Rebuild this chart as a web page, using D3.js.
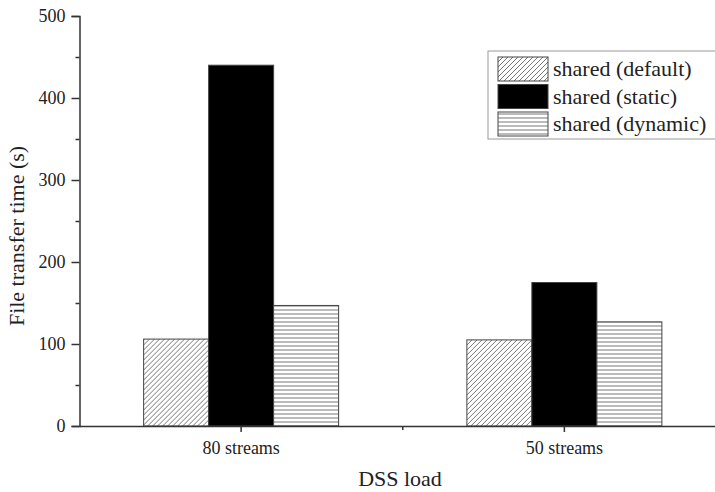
<!DOCTYPE html>
<html>
<head>
<meta charset="utf-8">
<script src="https://cdn.jsdelivr.net/npm/d3@7/dist/d3.min.js"></script>
<style>
  html, body { margin: 0; padding: 0; background: #fff; }
  svg text { font-family: 'Liberation Serif', 'Times New Roman', serif; fill: #222; }
</style>
</head>
<body>
<div id="chart"></div>
<script>
// values
const loads = ['80 streams', '50 streams'];
const configs = ['shared (default)', 'shared (static)', 'shared (dynamic)'];
const defaultTimes = [106, 105];
const staticTimes = [440, 175];
const dynamicTimes = [147, 127];
const yTicks = [0, 100, 200, 300, 400, 500];

const seriesValues = [defaultTimes, staticTimes, dynamicTimes];

const size = { width: 715, height: 492 };
const margin = { left: 79.5, top: 16, right: -11, bottom: 66 };

const svg = d3.select('#chart').append('svg')
  .attr('width', size.width)
  .attr('height', size.height);

svg.append('rect').attr('width', size.width).attr('height', size.height).attr('fill', '#fff');

const defs = svg.append('defs');

// diagonal hatch
const diag = defs.append('pattern')
  .attr('id', 'hatch-diag')
  .attr('patternUnits', 'userSpaceOnUse')
  .attr('width', 5)
  .attr('height', 5);
diag.append('rect').attr('width', 5).attr('height', 5).attr('fill', '#fff');
diag.append('path')
  .attr('d', 'M0,5 L5,0 M-1,1 L1,-1 M4,6 L6,4')
  .attr('stroke', '#666')
  .attr('stroke-width', 0.9);

// horizontal hatch
const horiz = defs.append('pattern')
  .attr('id', 'hatch-horiz')
  .attr('patternUnits', 'userSpaceOnUse')
  .attr('width', 8)
  .attr('height', 4);
horiz.append('rect').attr('width', 8).attr('height', 4).attr('fill', '#fff');
horiz.append('line')
  .attr('x1', 0).attr('x2', 8).attr('y1', 2).attr('y2', 2)
  .attr('stroke', '#777')
  .attr('stroke-width', 1);

const fills = ['url(#hatch-diag)', '#000', 'url(#hatch-horiz)'];

const x = d3.scaleBand()
  .domain(loads)
  .range([margin.left, size.width - margin.right]);

const xInner = d3.scaleBand()
  .domain(configs)
  .range([0, 195]);

const y = d3.scaleLinear()
  .domain([0, 500])
  .range([size.height - margin.bottom, margin.top]);

// bars
const groups = svg.selectAll('g.group')
  .data(loads)
  .join('g')
  .attr('class', 'group')
  .attr('transform', (d) => `translate(${x(d) + x.bandwidth() / 2 - 97.5},0)`);

groups.selectAll('rect')
  .data((d, i) => configs.map((c, j) => ({ config: c, value: seriesValues[j][i], fill: fills[j] })))
  .join('rect')
  .attr('x', (d) => xInner(d.config))
  .attr('y', (d) => y(d.value))
  .attr('width', xInner.bandwidth())
  .attr('height', (d) => y(0) - y(d.value))
  .attr('fill', (d) => d.fill)
  .attr('stroke', '#444')
  .attr('stroke-width', 1);

// y axis
const yAxis = svg.append('g')
  .attr('transform', `translate(${margin.left},0)`)
  .call(d3.axisLeft(y).tickValues(yTicks).tickSize(8).tickPadding(6).tickFormat(d3.format('d')));
yAxis.append('g')
  .call(d3.axisLeft(y).tickValues(d3.range(50, 500, 100)).tickSize(4).tickFormat(''))
  .select('.domain').remove();
yAxis.selectAll('.domain').attr('stroke', '#333').attr('stroke-width', 1.5);
yAxis.selectAll('.tick line').attr('stroke', '#333').attr('stroke-width', 1.5);
yAxis.selectAll('.tick text')
  .style('font-family', "'Liberation Serif', serif")
  .style('font-size', '18px')
  .attr('fill', '#222');

// x axis
const xAxis = svg.append('g')
  .attr('transform', `translate(0,${y(0)})`)
  .call(d3.axisBottom(x).tickSize(6).tickPadding(9).tickSizeOuter(0));
xAxis.selectAll('.domain').attr('stroke', '#333').attr('stroke-width', 1.5);
xAxis.selectAll('.tick line').attr('stroke', '#333').attr('stroke-width', 1.5);
xAxis.selectAll('.tick text')
  .style('font-family', "'Liberation Serif', serif")
  .style('font-size', '18px')
  .attr('fill', '#222');
// minor tick between groups
xAxis.append('line')
  .attr('x1', x(loads[1])).attr('x2', x(loads[1]))
  .attr('y1', 0).attr('y2', 4)
  .attr('stroke', '#333').attr('stroke-width', 1.5);

// axis titles
svg.append('text')
  .attr('transform', 'translate(24,236) rotate(-90)')
  .attr('text-anchor', 'middle')
  .style('font-size', '22px')
  .text('File transfer time (s)');

svg.append('text')
  .attr('x', 400)
  .attr('y', 486)
  .attr('text-anchor', 'middle')
  .style('font-size', '22px')
  .text('DSS load');

// legend
const legend = svg.append('g').attr('transform', 'translate(488,51)');
legend.append('rect')
  .attr('width', 240)
  .attr('height', 88)
  .attr('fill', '#fff')
  .attr('stroke', '#999')
  .attr('stroke-width', 1);

const items = legend.selectAll('g.item')
  .data(configs)
  .join('g')
  .attr('class', 'item')
  .attr('transform', (d, i) => `translate(10,${6 + i * 27.5})`);

items.append('rect')
  .attr('width', 50)
  .attr('height', 24)
  .attr('fill', (d, i) => fills[i])
  .attr('stroke', '#444')
  .attr('stroke-width', 1);

items.append('text')
  .attr('x', 55)
  .attr('y', 19)
  .style('font-size', '22px')
  .text((d) => d);
</script>
</body>
</html>
